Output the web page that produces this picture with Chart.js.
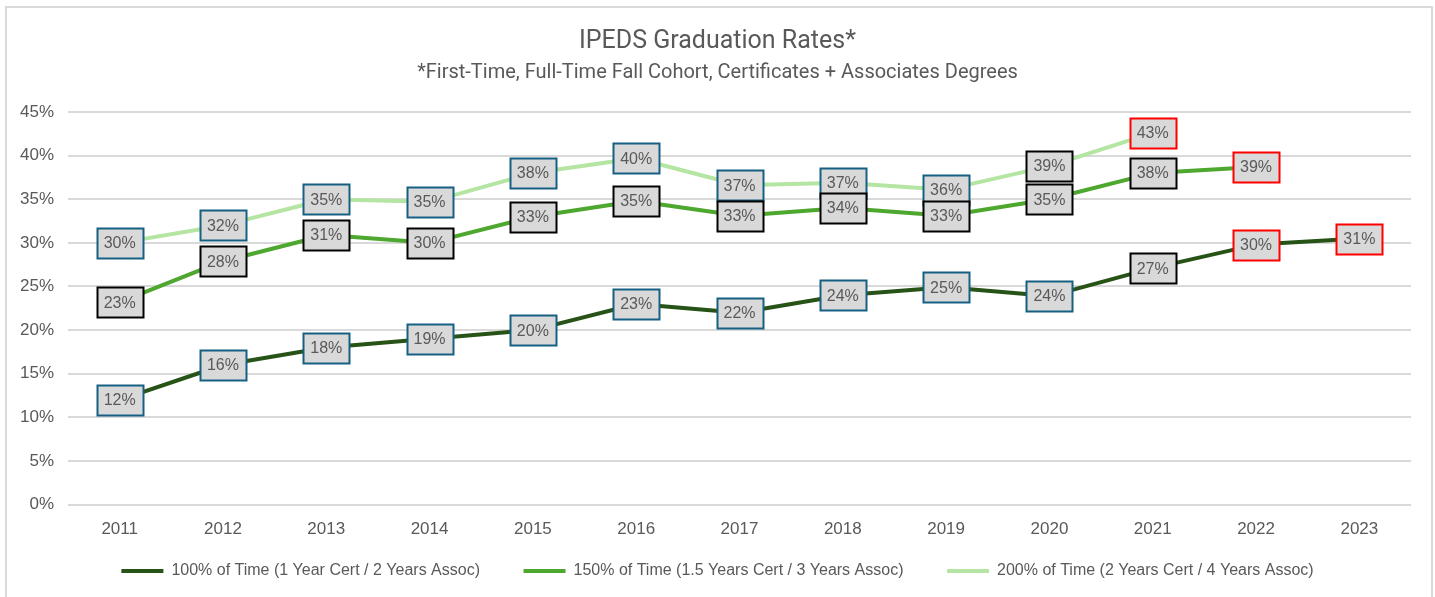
<!DOCTYPE html>
<html>
<head>
<meta charset="utf-8">
<title>IPEDS Graduation Rates</title>
<script src="https://cdn.jsdelivr.net/npm/chart.js@4"></script>
<style>
    body { margin: 0; background: #ffffff; }
    #wrap { position: absolute; left: 0; top: 0; width: 1435px; height: 597px; }
    #frame { position: absolute; left: 5px; top: 6px; width: 1424px; height: 620px; border: 2px solid #d9d9d9; pointer-events: none; }
</style>
</head>
<body>
<div id="wrap"><canvas id="gradChart" width="1435" height="597"></canvas></div>
<div id="frame"></div>
<script>
// Chart values (percent)
const years = ['2011', '2012', '2013', '2014', '2015', '2016', '2017', '2018', '2019', '2020', '2021', '2022', '2023'];
const rate100 = [12.0, 16.0, 18.0, 19.0, 20.0, 23.0, 22.0, 24.0, 24.9, 23.9, 27.1, 29.8, 30.5];
const rate150 = [23.2, 27.9, 30.9, 30.0, 33.0, 34.8, 33.1, 34.0, 33.1, 35.0, 38.0, 38.7, null];
const rate200 = [30.0, 32.0, 35.0, 34.7, 38.0, 39.7, 36.6, 36.9, 36.1, 38.8, 42.6, null, null];
const seriesNames = [
    '100% of Time (1 Year Cert / 2 Years Assoc)',
    '150% of Time (1.5 Years Cert / 3 Years Assoc)',
    '200% of Time (2 Years Cert / 4 Years Assoc)'
];
const yTicks = [0, 5, 10, 15, 20, 25, 30, 35, 40, 45];

// label outline colours (b = blue, k = black, r = red)
const outline100 = ['b', 'b', 'b', 'b', 'b', 'b', 'b', 'b', 'b', 'b', 'k', 'r', 'r'];
const outline150 = ['k', 'k', 'k', 'k', 'k', 'k', 'k', 'k', 'k', 'k', 'k', 'r', 'k'];
const outline200 = ['b', 'b', 'b', 'b', 'b', 'b', 'b', 'b', 'b', 'k', 'r', 'b', 'b'];

const outlineColors = { b: '#156082', k: '#000000', r: '#ff0000' };
const lineColors = ['#275317', '#4ea72e', '#b4e5a2'];
const textGrey = '#595959';
const tickFont = { family: '"Liberation Sans", Arial, sans-serif', size: 17 };

// draws the grey boxed value labels over the lines
const boxLabels = {
    id: 'boxLabels',
    afterDatasetsDraw(chart) {
        const ctx = chart.ctx;
        const outlines = [outline100, outline150, outline200];
        ctx.save();
        ctx.font = '16px "Liberation Sans", Arial, sans-serif';
        ctx.textAlign = 'center';
        ctx.textBaseline = 'middle';
        for (let d = chart.data.datasets.length - 1; d >= 0; d--) {
            const ds = chart.data.datasets[d];
            const meta = chart.getDatasetMeta(d);
            meta.data.forEach((pt, i) => {
                const v = ds.data[i];
                if (v === null || v === undefined) return;
                const w = 46, h = 30;
                const x = Math.round(pt.x - w / 2) + 0.5;
                const y = Math.round(pt.y - h / 2) + 0.5;
                ctx.fillStyle = '#d9d9d9';
                ctx.fillRect(x, y, w, h);
                ctx.lineWidth = 2;
                ctx.strokeStyle = outlineColors[outlines[d][i]];
                ctx.strokeRect(x, y, w, h);
                ctx.fillStyle = textGrey;
                ctx.fillText(Math.round(v) + '%', pt.x, pt.y + 1);
            });
        }
        ctx.restore();
    }
};

function makeSet(idx, values) {
    return {
        label: seriesNames[idx],
        data: values,
        borderColor: lineColors[idx],
        backgroundColor: lineColors[idx],
        borderWidth: 4,
        borderCapStyle: 'round',
        borderJoinStyle: 'round',
        pointRadius: 0,
        pointHoverRadius: 0,
        tension: 0,
        spanGaps: false
    };
}

const ctx = document.getElementById('gradChart').getContext('2d');
new Chart(ctx, {
    type: 'line',
    data: {
        labels: years,
        datasets: [makeSet(0, rate100), makeSet(1, rate150), makeSet(2, rate200)]
    },
    plugins: [boxLabels],
    options: {
        responsive: false,
        animation: false,
        layout: { padding: { left: 0, right: 0, top: 0, bottom: 8 } },
        plugins: {
            title: {
                display: true,
                text: 'IPEDS Graduation Rates*',
                color: textGrey,
                font: { family: 'Roboto', size: 25, weight: 'normal' },
                padding: { top: 27, bottom: 4 }
            },
            subtitle: {
                display: true,
                text: '*First-Time, Full-Time Fall Cohort, Certificates + Associates Degrees',
                color: textGrey,
                font: { family: 'Roboto', size: 20, weight: 'normal' },
                padding: { top: 0, bottom: 27 }
            },
            legend: {
                position: 'bottom',
                labels: {
                    usePointStyle: true,
                    pointStyle: 'line',
                    pointStyleWidth: 42,
                    color: textGrey,
                    font: { family: '"Liberation Sans", Arial, sans-serif', size: 16 },
                    padding: 8,
                    // widen the gap between items without growing the legend height
                    generateLabels: (chart) => {
                        const items = Chart.defaults.plugins.legend.labels.generateLabels(chart);
                        items.forEach((it, i) => {
                            if (i < items.length - 1) it.text = it.text + '        ';
                        });
                        return items;
                    }
                }
            },
            tooltip: { enabled: false }
        },
        scales: {
            x: {
                offset: true,
                grid: { display: false, drawTicks: false },
                border: { display: false },
                ticks: { color: textGrey, font: tickFont, padding: 15 }
            },
            y: {
                min: 0,
                max: 45,
                afterBuildTicks: (scale) => { scale.ticks = yTicks.map(v => ({ value: v })); },
                afterFit: (scale) => { scale.width = 68; },
                grid: { color: '#d9d9d9', lineWidth: 2, drawTicks: false },
                border: { display: false },
                ticks: {
                    color: textGrey,
                    font: tickFont,
                    padding: 14,
                    callback: (v) => v + '%'
                }
            },
            // empty right-hand axis, only keeps the plot clear of the right edge
            yRight: {
                position: 'right',
                min: 0,
                max: 45,
                afterFit: (scale) => { scale.width = 24; },
                grid: { display: false, drawTicks: false },
                border: { display: false },
                ticks: { display: false }
            }
        }
    }
});
</script>
</body>
</html>
